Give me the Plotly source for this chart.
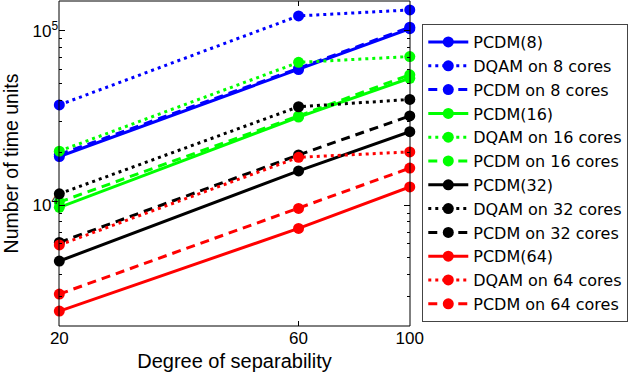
import numpy as np
import plotly.graph_objects as go

# x values (degree of separability)
separability = [20, 60, 100]

# series values (number of time units)
pcdm8 = [19000, 60000, 103000]
dqam8 = [37600, 122000, 132000]
pcdm_8cores = [19500, 61000, 105000]
pcdm16 = [9700, 32000, 53500]
dqam16 = [20400, 66000, 71300]
pcdm_16cores = [10400, 32500, 56000]
pcdm32 = [4770, 15700, 26400]
dqam32 = [11600, 36700, 40400]
pcdm_32cores = [6100, 19400, 32500]
pcdm64 = [2460, 7340, 12700]
dqam64 = [5900, 18800, 20200]
pcdm_64cores = [3080, 9570, 16300]

series = [
    ("PCDM(8)", pcdm8, "#0000ff", "solid"),
    ("DQAM on 8 cores", dqam8, "#0000ff", "dot"),
    ("PCDM on 8 cores", pcdm_8cores, "#0000ff", "dash"),
    ("PCDM(16)", pcdm16, "#00ff00", "solid"),
    ("DQAM on 16 cores", dqam16, "#00ff00", "dot"),
    ("PCDM on 16 cores", pcdm_16cores, "#00ff00", "dash"),
    ("PCDM(32)", pcdm32, "#000000", "solid"),
    ("DQAM on 32 cores", dqam32, "#000000", "dot"),
    ("PCDM on 32 cores", pcdm_32cores, "#000000", "dash"),
    ("PCDM(64)", pcdm64, "#ff0000", "solid"),
    ("DQAM on 64 cores", dqam64, "#ff0000", "dot"),
    ("PCDM on 64 cores", pcdm_64cores, "#ff0000", "dash"),
]

fig = go.Figure()
for name, vals, color, dash in series:
    d = "9px,6px" if dash == "dash" else ("3px,4px" if dash == "dot" else dash)
    fig.add_trace(go.Scatter(
        x=separability, y=vals, name=name, mode="lines+markers",
        line=dict(color=color, width=3, dash=d),
        marker=dict(symbol="circle", size=11, color=color),
        cliponaxis=False,
    ))

# minor tick positions on the log y axis (2..9 per decade)
minor_y = [m * 10 ** e for e in range(3, 6) for m in range(2, 10)]

# axes box
fig.add_shape(type="rect", xref="paper", yref="paper", x0=0, y0=0, x1=1, y1=1,
              line=dict(color="black", width=1), layer="above")

font = "Liberation Sans, Arial, sans-serif"
fig.update_layout(
    width=640, height=373,
    margin=dict(l=59, r=230, t=1, b=47),
    paper_bgcolor="white", plot_bgcolor="white",
    font=dict(family=font, size=17, color="black"),
    showlegend=True,
    legend=dict(
        x=1.035, y=0.929, xanchor="left", yanchor="top",
        bordercolor="#444444", borderwidth=1, bgcolor="white",
        font=dict(size=16, family="DejaVu Sans, sans-serif"),
        itemwidth=40, tracegroupgap=0,
    ),
    xaxis=dict(
        type="log", range=[np.log10(19.97), np.log10(100.1)],
        tickvals=[20, 60, 100], ticktext=["20", "60", "100"],
        ticks="inside", ticklen=5, tickcolor="black", mirror="ticks",
        showgrid=False, zeroline=False, automargin=False,
        title=dict(text="Degree of separability", font=dict(size=20), standoff=6),
    ),
    yaxis=dict(
        type="log", range=[np.log10(2020), np.log10(148600)],
        tickvals=[1e4, 1e5], ticktext=["10<sup>4</sup>", "10<sup>5</sup>"],
        ticks="inside", ticklen=6, tickcolor="black", mirror="ticks",
        showgrid=False, zeroline=False, automargin=False,
        minor=dict(ticks="inside", ticklen=3, tickvals=minor_y,
                   tickcolor="black", showgrid=False),
        title=dict(text="Number of time units", font=dict(size=19.5), standoff=8),
    ),
)

fig.write_html("out.html", config={"displayModeBar": False},
               post_script="document.body.style.margin='0';")
